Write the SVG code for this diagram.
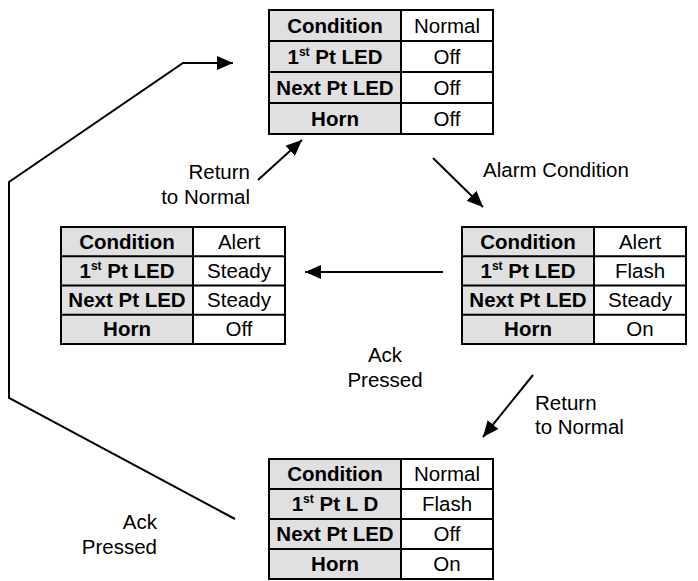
<svg xmlns="http://www.w3.org/2000/svg" width="698" height="581" viewBox="0 0 698 581">
<defs>
<marker id="ah" markerUnits="userSpaceOnUse" markerWidth="18" markerHeight="14" refX="16" refY="7" orient="auto">
<path d="M0,0 L16,7 L0,14 Z" fill="#000"/>
</marker>
<style>
.k{fill:#e0e0e0;stroke:none}
.v{fill:#fff;stroke:none}
.g{fill:none;stroke:#000;stroke-width:2}
.b{font-family:"Liberation Sans",Arial,sans-serif;font-weight:bold;font-size:20.5px;text-anchor:middle;fill:#000}
.r{font-family:"Liberation Sans",Arial,sans-serif;font-size:20.5px;text-anchor:middle;fill:#000}
.l{font-family:"Liberation Sans",Arial,sans-serif;font-size:20.5px;fill:#000}
.c{fill:none;stroke:#000;stroke-width:2}
</style>
</defs>
<rect width="698" height="581" fill="#fff"/>

<g id="connectors">
<path class="c" d="M235,519 L9,398 L9,182 L183,63 L233,63" marker-end="url(#ah)"/>
<line class="c" x1="258" y1="180" x2="302" y2="140" marker-end="url(#ah)"/>
<line class="c" x1="433" y1="158" x2="483" y2="207" marker-end="url(#ah)"/>
<line class="c" x1="443" y1="272" x2="305" y2="272" marker-end="url(#ah)"/>
<line class="c" x1="533" y1="375" x2="483" y2="437" marker-end="url(#ah)"/>
<text class="l" x="250" y="179" text-anchor="end">Return</text>
<text class="l" x="250" y="204" text-anchor="end">to Normal</text>
<text class="l" x="483" y="177">Alarm Condition</text>
<text class="l" x="385" y="362" text-anchor="middle">Ack</text>
<text class="l" x="385" y="387" text-anchor="middle">Pressed</text>
<text class="l" x="535" y="410">Return</text>
<text class="l" x="535" y="434">to Normal</text>
<text class="l" x="157" y="529" text-anchor="end">Ack</text>
<text class="l" x="157" y="554" text-anchor="end">Pressed</text>
</g>

<g id="state-normal">
<rect class="k" x="269" y="10" width="132" height="124"/>
<rect class="v" x="401" y="10" width="92" height="124"/>
<path class="g" d="M269,10 H493 V134 H269 Z M269,41 H493 M269,72 H493 M269,103 H493 M401,10 V134"/>
<text class="b" x="335" y="32.5">Condition</text>
<text class="r" x="447" y="32.5">Normal</text>
<text class="b" x="335" y="63.5">1<tspan font-size="12" dy="-8">st</tspan><tspan dy="8"> Pt LED</tspan></text>
<text class="r" x="447" y="63.5">Off</text>
<text class="b" x="335" y="94.5">Next Pt LED</text>
<text class="r" x="447" y="94.5">Off</text>
<text class="b" x="335" y="125.5">Horn</text>
<text class="r" x="447" y="125.5">Off</text>
</g>

<g id="state-acknowledged">
<rect class="k" x="61" y="227" width="132" height="117"/>
<rect class="v" x="193" y="227" width="92" height="117"/>
<path class="g" d="M61,227 H285 V344 H61 Z M61,256.25 H285 M61,285.5 H285 M61,314.75 H285 M193,227 V344"/>
<text class="b" x="127" y="248.6">Condition</text>
<text class="r" x="239" y="248.6">Alert</text>
<text class="b" x="127" y="277.9">1<tspan font-size="12" dy="-8">st</tspan><tspan dy="8"> Pt LED</tspan></text>
<text class="r" x="239" y="277.9">Steady</text>
<text class="b" x="127" y="307.1">Next Pt LED</text>
<text class="r" x="239" y="307.1">Steady</text>
<text class="b" x="127" y="336.4">Horn</text>
<text class="r" x="239" y="336.4">Off</text>
</g>

<g id="state-alarm">
<rect class="k" x="462" y="227" width="132" height="117"/>
<rect class="v" x="594" y="227" width="92" height="117"/>
<path class="g" d="M462,227 H686 V344 H462 Z M462,256.25 H686 M462,285.5 H686 M462,314.75 H686 M594,227 V344"/>
<text class="b" x="528" y="248.6">Condition</text>
<text class="r" x="640" y="248.6">Alert</text>
<text class="b" x="528" y="277.9">1<tspan font-size="12" dy="-8">st</tspan><tspan dy="8"> Pt LED</tspan></text>
<text class="r" x="640" y="277.9">Flash</text>
<text class="b" x="528" y="307.1">Next Pt LED</text>
<text class="r" x="640" y="307.1">Steady</text>
<text class="b" x="528" y="336.4">Horn</text>
<text class="r" x="640" y="336.4">On</text>
</g>

<g id="state-return">
<rect class="k" x="269" y="459" width="132" height="120"/>
<rect class="v" x="401" y="459" width="92" height="120"/>
<path class="g" d="M269,459 H493 V579 H269 Z M269,489 H493 M269,519 H493 M269,549 H493 M401,459 V579"/>
<text class="b" x="335" y="481">Condition</text>
<text class="r" x="447" y="481">Normal</text>
<text class="b" x="335" y="511">1<tspan font-size="12" dy="-8">st</tspan><tspan dy="8"> Pt L D</tspan></text>
<text class="r" x="447" y="511">Flash</text>
<text class="b" x="335" y="541">Next Pt LED</text>
<text class="r" x="447" y="541">Off</text>
<text class="b" x="335" y="571">Horn</text>
<text class="r" x="447" y="571">On</text>
</g>
</svg>
